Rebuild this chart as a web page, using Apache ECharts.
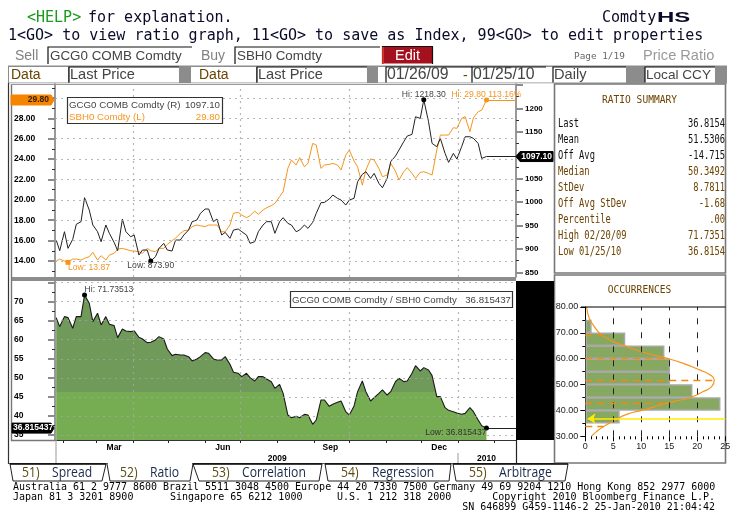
<!DOCTYPE html>
<html>
<head>
<meta charset="utf-8">
<title>ComdtyHS</title>
<script src="https://cdn.jsdelivr.net/npm/echarts@6/dist/echarts.min.js"></script>
<style>
  html, body { margin: 0; padding: 0; background: #fff; }
  #root { width: 736px; height: 527px; }
</style>
</head>
<body>
<div id="root"></div>
<script>
const dates = [
  '2009-01-26','2009-01-29','2009-02-02','2009-02-05','2009-02-09','2009-02-12','2009-02-16','2009-02-19','2009-02-23','2009-02-26',
  '2009-03-02','2009-03-05','2009-03-09','2009-03-12','2009-03-16','2009-03-19','2009-03-23','2009-03-26','2009-03-30','2009-04-02',
  '2009-04-06','2009-04-09','2009-04-13','2009-04-16','2009-04-20','2009-04-23','2009-04-27','2009-04-30','2009-05-04','2009-05-07',
  '2009-05-11','2009-05-14','2009-05-18','2009-05-21','2009-05-25','2009-05-28','2009-06-01','2009-06-04','2009-06-08','2009-06-11',
  '2009-06-15','2009-06-18','2009-06-22','2009-06-25','2009-06-29','2009-07-02','2009-07-06','2009-07-09','2009-07-13','2009-07-16',
  '2009-07-20','2009-07-23','2009-07-27','2009-07-30','2009-08-03','2009-08-06','2009-08-10','2009-08-13','2009-08-17','2009-08-20',
  '2009-08-24','2009-08-27','2009-08-31','2009-09-03','2009-09-07','2009-09-10','2009-09-14','2009-09-17','2009-09-21','2009-09-24',
  '2009-09-28','2009-10-01','2009-10-05','2009-10-08','2009-10-12','2009-10-15','2009-10-19','2009-10-22','2009-10-26','2009-10-29',
  '2009-11-02','2009-11-05','2009-11-09','2009-11-12','2009-11-16','2009-11-19','2009-11-23','2009-11-26','2009-11-30','2009-12-03',
  '2009-12-07','2009-12-10','2009-12-14','2009-12-17','2009-12-21','2009-12-24','2009-12-28','2009-12-31','2010-01-04','2010-01-07',
  '2010-01-11','2010-01-14','2010-01-18','2010-01-21','2010-01-25'
];
const gcg0 = [
  918.9,896.2,936.7,901.2,920.4,952.4,958.1,1009.3,982.9,951.0,
  936.7,915.4,951.0,933.2,914.0,896.2,963.8,936.7,926.0,929.6,
  886.9,897.6,897.6,873.9,883.4,901.2,911.8,897.6,895.5,918.9,
  918.9,929.6,940.3,958.1,961.6,975.8,985.1,985.1,958.1,963.8,
  929.6,935.3,922.5,940.3,942.4,936.7,929.6,911.8,915.4,936.7,
  951.0,958.1,958.1,933.2,958.1,966.6,954.5,951.0,936.7,940.3,
  951.0,943.8,956.6,975.8,998.6,999.3,1006.4,1015.0,1007.9,1004.3,
  993.6,1004.3,1007.9,1043.4,1059.1,1064.8,1050.5,1061.2,1039.9,1030.6,
  1050.5,1086.1,1098.2,1111.0,1128.8,1140.9,1144.4,1182.1,1178.6,1218.3,
  1171.5,1125.2,1118.1,1135.9,1103.9,1084.7,1103.9,1091.8,1118.1,1139.4,
  1139.4,1135.9,1125.2,1093.2,1097.1
];
const sbh0 = [
  13.99,14.19,13.99,13.87,14.19,14.19,14.09,14.26,14.42,14.85,
  14.09,14.52,14.09,14.59,14.75,15.17,15.24,15.14,15.01,14.98,
  14.91,14.75,15.24,15.01,14.91,15.24,15.24,15.63,15.99,16.25,
  16.71,16.97,17.04,17.37,17.53,17.46,17.37,17.53,17.53,17.53,
  16.87,16.87,17.53,18.69,18.77,18.51,18.25,18.45,18.90,18.58,
  19.00,19.23,19.43,19.66,20.31,20.80,23.09,23.91,23.42,24.14,
  23.25,23.58,25.54,25.38,23.09,23.42,23.48,23.58,23.42,22.93,
  24.40,24.89,23.81,23.25,21.45,22.93,24.01,23.91,23.09,22.27,
  22.44,23.58,22.83,21.95,22.76,23.16,22.60,22.11,22.70,22.76,
  22.60,22.44,24.89,26.36,26.36,26.36,27.08,27.02,28.00,28.16,
  26.69,28.06,28.65,28.81,29.80
];
const ratio = [
  65.80,63.44,66.06,65.80,63.00,66.06,66.06,71.7351,69.56,64.75,
  66.94,63.88,66.06,64.05,63.70,60.55,62.83,62.30,62.13,62.30,
  60.64,60.20,59.24,59.33,59.94,60.81,60.20,57.58,55.83,56.18,
  56.00,56.00,55.56,54.43,54.95,55.56,56.61,56.44,54.95,54.69,
  54.69,55.56,53.55,51.45,51.19,50.32,51.19,50.05,49.18,50.32,
  50.32,49.70,49.00,47.25,48.30,45.94,40.25,39.55,39.90,39.55,
  40.43,40.25,37.80,38.94,44.19,44.19,42.53,43.05,43.58,43.93,
  41.13,40.25,42.62,46.38,49.18,46.38,43.93,44.80,45.94,46.82,
  45.50,46.38,49.00,49.88,49.00,49.18,51.19,53.20,51.80,52.68,
  52.07,50.58,45.07,45.07,42.18,41.48,41.13,40.78,40.43,40.69,
  42.18,41.13,38.94,37.45,36.8154
];

const leftTicks = [14,16,18,20,22,24,26,28,30];
const leftMinor = [13,15,17,19,21,23,25,27,29,31];
const rightTicks = [850,900,950,1000,1050,1100,1150,1200,1250];
const rightLabels = [850,900,950,1000,1050,1100,1150,1200];
const rightMinor = [875,925,975,1025,1075,1125,1175,1225];
const ratioTicks = [35,40,45,50,55,60,65,70,75];
const ratioLabels = [35,40,45,50,55,60,65,70];
const ratioMinor = [37.5,42.5,47.5,52.5,57.5,62.5,67.5,72.5];
const quarterLines = ['2009-04-01','2009-07-01','2009-10-01','2010-01-01'];
const monthTicks = ['2009-02-01','2009-03-01','2009-04-01','2009-05-01','2009-06-01','2009-07-01','2009-08-01','2009-09-01','2009-10-01','2009-11-01','2009-12-01','2010-01-01','2010-02-01'];
const monthLabelAt = ['2009-03-16','2009-06-16','2009-09-15','2009-12-16'];
const monthLabels = ['Mar','Jun','Sep','Dec'];
const yearLabelAt = ['2009-08-01','2010-01-25'];
const yearLabels = ['2009','2010'];

const binLows = [35,40,45,50,55,60,65,70];
const binHighs = [40,45,50,55,60,65,70,75];
const binCounts = [6,24,19,15,15,14,7,1];
const curveCounts = [0.24,0.71,1.43,2.62,5,7.38,10.95,14.5,17.5,20.5,22.3,23.04,22.56,21.07,18.7,16.3,13.9,10.4,7.38,5,3.2,2.0,1.13];
const curveValues = [80,75.6,73.0,69.8,66.6,64.7,62.1,60.2,58.2,55.6,53.7,51.8,49.2,47.3,44.9,43.7,42.4,40.2,38.5,35.9,33.7,31.8,30.1];
const statLevels = [69.09,60.31,51.53,42.75,33.97];
const statReach = [3.2,14.5,23.1,14.2,3.2];
const countLines = [5,10,15,20];

const summaryNames = ['Last','Mean','Off Avg','Median','StDev','Off Avg StDev','Percentile','High 02/20/09','Low 01/25/10'];
const summaryValues = ['36.8154','51.5306','-14.715','50.3492','8.7811','-1.68','.00','71.7351','36.8154'];

const mono = '"DejaVu Sans Mono"';
const sans = '"Liberation Sans"';
const brown = '#6b4300';
const orange = '#f7941d';
const ms = (d) => Date.parse(d);
const axisEnd = ms('2010-02-19');
const axisStart = ms('2009-01-25');
const lastDate = ms(dates[dates.length - 1]);
const dotted = { color: 'rgba(165,165,165,0.8)', width: 1.2, type: [2, 4] };
const boldLabel = (size) => ({ color: '#000', fontFamily: 'Liberation Sans', fontWeight: 'bold', fontSize: size });

const chart = echarts.init(document.getElementById('root'));

const flatLine = (value, color) => [
  { coord: [lastDate, value], lineStyle: { color: color, width: 1, type: 'solid' } },
  { coord: [axisEnd, value] }
];
const gridLines = (levels) => levels.map(v => ({ yAxis: v })).concat(quarterLines.map(d => ({ xAxis: ms(d) })));
const zip = (vals) => dates.map((d, i) => [ms(d), vals[i]]);
const note = (coord, text, color, position, align, symbol) => ({
  coord: coord,
  symbol: symbol || 'circle',
  symbolSize: symbol === 'none' ? 0 : 5,
  itemStyle: { color: color === orange ? orange : '#000' },
  label: {
    show: true, formatter: text, color: color, position: position, align: align,
    fontFamily: 'Liberation Sans', fontSize: 8.6, distance: symbol === 'none' ? 1 : -2
  }
});

const timeAxis = (gridIndex, extra) => Object.assign({
  type: 'value', gridIndex: gridIndex, position: 'bottom', min: axisStart, max: axisEnd,
  axisLine: { show: false }, axisTick: { show: false }, axisLabel: { show: false }, splitLine: { show: false }
}, extra);

const leftAxis = (gridIndex, min, max, ticks, labels, minor, digits) => [
  {
    type: 'value', gridIndex: gridIndex, position: 'left', min: min, max: max, splitLine: { show: false },
    axisLine: { show: true, lineStyle: { color: '#777', width: 1.5 } },
    axisTick: { show: true, customValues: ticks, length: 7, lineStyle: { color: '#8c8c8c', width: 2 } },
    axisLabel: Object.assign({
      customValues: labels, align: 'left', margin: 41,
      formatter: v => v.toFixed(digits)
    }, boldLabel(8.5))
  },
  {
    type: 'value', gridIndex: gridIndex, position: 'left', min: min, max: max, splitLine: { show: false },
    axisLine: { show: false }, axisLabel: { show: false },
    axisTick: { show: true, customValues: minor, length: 3, lineStyle: { color: '#333', width: 1 } }
  }
];

chart.setOption({
  animation: false,
  backgroundColor: '#fff',
  grid: [
    { left: 55, top: 84, width: 461, height: 193 },
    { left: 55, top: 281, width: 461, height: 159 },
    { left: 585.3, top: 307, width: 140, height: 129.3 }
  ],
  xAxis: [
    timeAxis(0),
    timeAxis(1, {
      axisTick: { show: true, customValues: monthTicks.map(ms), length: 3, lineStyle: { color: '#222' } },
      axisLabel: Object.assign({
        show: true, customValues: monthLabelAt.map(ms), margin: 3,
        formatter: v => monthLabels[monthLabelAt.map(ms).indexOf(v)] || ''
      }, boldLabel(8.5))
    }),
    timeAxis(1, {
      axisLabel: Object.assign({
        show: true, customValues: yearLabelAt.map(ms), margin: 14,
        formatter: v => yearLabels[yearLabelAt.map(ms).indexOf(v)] || ''
      }, boldLabel(8.5))
    }),
    {
      type: 'value', gridIndex: 2, position: 'bottom', min: 0, max: 25, interval: 5,
      axisLine: { show: false },
      axisTick: { show: true, length: 5, lineStyle: { color: '#000' } },
      minorTick: { show: true, splitNumber: 5, length: 3, lineStyle: { color: '#000' } },
      axisLabel: { margin: 6, color: '#222', fontFamily: 'Liberation Sans', fontSize: 9, showMaxLabel: true },
      splitLine: { show: false }
    }
  ],
  yAxis: [].concat(
    leftAxis(0, 12.43, 31.37, leftTicks, leftTicks.slice(0, 8), leftMinor, 2),
    [
      {
        type: 'value', gridIndex: 0, position: 'right', min: 840, max: 1252, splitLine: { show: false },
        axisLine: { show: true, lineStyle: { color: '#777', width: 1.5 } },
        axisTick: { show: true, customValues: rightTicks, length: 7, lineStyle: { color: '#8c8c8c', width: 2 } },
        axisLabel: Object.assign({ customValues: rightLabels, margin: 9, formatter: v => String(v) }, boldLabel(8))
      },
      {
        type: 'value', gridIndex: 0, position: 'right', min: 840, max: 1252, splitLine: { show: false },
        axisLine: { show: false }, axisLabel: { show: false },
        axisTick: { show: true, customValues: rightMinor, length: 3, lineStyle: { color: '#333', width: 1 } }
      }
    ],
    leftAxis(1, 33.7, 75.4, ratioTicks, ratioLabels, ratioMinor, 0),
    [
      {
        type: 'value', gridIndex: 2, min: 30, max: 80, interval: 10,
        axisLine: { show: true, lineStyle: { color: '#000', width: 1 } },
        axisTick: { show: true, length: 5, lineStyle: { color: '#000' } },
        minorTick: { show: true, splitNumber: 2, length: 3, lineStyle: { color: '#000' } },
        axisLabel: { margin: 7, color: '#222', fontFamily: 'Liberation Sans', fontSize: 9, formatter: v => v.toFixed(2) },
        splitLine: { show: false }
      }
    ]
  ),
  series: [
    {
      name: 'SBH0 Comdty', type: 'line', xAxisIndex: 0, yAxisIndex: 0, data: zip(sbh0),
      showSymbol: false, lineStyle: { color: orange, width: 1 }, z: 3,
      markLine: {
        silent: true, symbol: 'none', label: { show: false }, lineStyle: dotted,
        data: gridLines(leftTicks).concat([flatLine(29.80, orange)])
      },
      markPoint: {
        silent: true,
        data: [
          note([ms(dates[3]), 13.87], 'Low: 13.87', orange, 'bottom', 'left', 'rect'),
          note([lastDate, 29.80], 'Hi: 29.80 113.16%', orange, 'top', 'center')
        ]
      }
    },
    {
      name: 'GCG0 COMB Comdty', type: 'line', xAxisIndex: 0, yAxisIndex: 2, data: zip(gcg0),
      showSymbol: false, lineStyle: { color: '#222', width: 1 }, z: 4,
      markLine: {
        silent: true, symbol: 'none', label: { show: false },
        data: [flatLine(1097.10, '#222')]
      },
      markPoint: {
        silent: true,
        data: [
          note([ms(dates[23]), 873.90], 'Low: 873.90', '#444', 'bottom', 'center'),
          note([ms(dates[89]), 1218.30], 'Hi: 1218.30', '#444', 'top', 'center'),
          note([lastDate, 1097.10], '19.30%', '#444', 'bottom', 'left', 'none')
        ]
      }
    },
    {
      name: 'GCG0 COMB Comdty / SBH0 Comdty', type: 'line', xAxisIndex: 1, yAxisIndex: 4, data: zip(ratio),
      showSymbol: false, lineStyle: { color: '#1a1a1a', width: 1.1 }, z: 3,
      areaStyle: {
        opacity: 1,
        color: new echarts.graphic.LinearGradient(0, 0, 0, 527, [
          { offset: 0, color: '#6f9a5a' }, { offset: 0.744, color: '#6f9a5a' },
          { offset: 0.744, color: '#77ad52' }, { offset: 1, color: '#77ad52' }
        ], true)
      },
      markLine: {
        silent: true, symbol: 'none', label: { show: false }, lineStyle: dotted,
        data: gridLines(ratioTicks).concat([flatLine(36.8154, '#222')])
      },
      markPoint: {
        silent: true,
        data: [
          note([ms(dates[7]), 71.7351], 'Hi: 71.73513', '#444', 'top', 'left'),
          note([lastDate, 36.8154], 'Low: 36.815437', '#333', 'bottom', 'right')
        ]
      }
    },
    {
      name: 'Occurrences', type: 'custom', xAxisIndex: 3, yAxisIndex: 6,
      data: binLows.map((lo, i) => [lo, binHighs[i], binCounts[i]]),
      encode: { x: 2, y: [0, 1] },
      renderItem: (params, api) => {
        const a = api.coord([0, api.value(1)]);
        const b = api.coord([api.value(2), api.value(0)]);
        return {
          type: 'rect',
          shape: { x: a[0] + 1, y: a[1] + 0.5, width: b[0] - a[0] - 1, height: b[1] - a[1] - 1 },
          style: { fill: '#86a860', stroke: '#a8a8a8', lineWidth: 1.5 }
        };
      },
      z: 2
    },
    {
      name: 'Normal', type: 'line', xAxisIndex: 3, yAxisIndex: 6, smooth: true, showSymbol: false,
      data: curveCounts.map((c, i) => [c, curveValues[i]]),
      lineStyle: { color: orange, width: 1.2 }, z: 3,
      markLine: {
        silent: true, symbol: 'none', label: { show: false },
        data: countLines.map(c => ({ xAxis: c, lineStyle: { color: '#222', type: [6, 8], width: 1 } })).concat(
          statLevels.map((v, i) => [
            { coord: [0, v], lineStyle: { color: '#f08a12', type: [7, 5], width: 1.3 } },
            { coord: [statReach[i], v] }
          ]),
          [[
            { coord: [25, 36.8154], symbol: 'none', lineStyle: { color: '#ffee00', type: 'solid', width: 1.6 } },
            { coord: [0.4, 36.8154], symbol: 'arrow', symbolSize: 8 }
          ]]
        )
      }
    }
  ]
});

// everything around the plots: panels, input rows, tabs, footer
const rect = (x, y, w, h, fill, stroke, lw, z) => ({
  type: 'rect', silent: true, z: z === undefined ? -5 : z,
  shape: { x: x, y: y, width: w, height: h },
  style: { fill: fill || 'none', stroke: stroke || 'none', lineWidth: lw || 1 }
});
const poly = (points, stroke, lw, z) => ({
  type: 'polyline', silent: true, z: z === undefined ? 40 : z,
  shape: { points: points }, style: { fill: 'none', stroke: stroke, lineWidth: lw || 1 }
});
const txt = (x, y, text, font, fill, align, scaleX) => ({
  type: 'text', silent: true, z: 50, x: x, y: y, scaleX: scaleX || 1,
  style: { text: text, font: font, fill: fill, align: align || 'left', verticalAlign: 'middle' }
});
const box = (x, y, w, h) => [
  rect(x, y, w, h, '#fff', null, 1, -3),
  poly([[x, y + h], [x, y], [x + w, y]], '#111', 1.2, -2)
];
const flag = (points, fill, stroke) => ({
  type: 'polygon', silent: true, z: 45,
  shape: { points: points }, style: { fill: fill, stroke: stroke || fill }
});

const el = [];
el.push(txt(27, 18, '<HELP>', '15px ' + mono, '#1a9a1a'));
el.push(txt(88, 18, 'for explanation.', '15px ' + mono, '#0a0a28'));
el.push(txt(8, 36, '1<GO> to view ratio graph, 11<GO> to save as Index, 99<GO> to edit properties', '15px ' + mono, '#0a0a28'));
el.push(txt(602, 18, 'Comdty', '15px ' + mono, '#0a0a28'));
el.push(txt(657, 18, 'HS', 'bold 15px ' + sans, '#0a0a28', 'left', 1.6));

el.push(txt(15, 56, 'Sell', '14px ' + sans, '#808080'));
el.push(...box(48, 47, 144, 17));
el.push(txt(50, 56, 'GCG0 COMB Comdty', '13.4px ' + sans, '#444'));
el.push(txt(201, 56, 'Buy', '14px ' + sans, '#808080'));
el.push(...box(235, 47, 145, 17));
el.push(txt(237, 56, 'SBH0 Comdty', '13.4px ' + sans, '#444'));
el.push(rect(382.5, 46.5, 50, 17, '#a5101f', null, 1, -2));
el.push(poly([[382.5, 64], [382.5, 46.5], [432.5, 46.5], [432.5, 64]], '#111', 1.2, -1));
el.push(poly([[383, 64], [383, 47]], '#f0402a', 1.5, -1));
el.push(txt(407.5, 56, 'Edit', '14.5px ' + sans, '#fff', 'center'));
el.push(txt(574, 57, 'Page 1/19', '9.4px ' + mono, '#666'));
el.push(txt(643, 56, 'Price Ratio', '14.6px ' + sans, '#999'));

el.push(rect(8, 65.5, 719, 18, '#8c8c8c', null, 1, -4));
el.push(rect(9, 67, 59, 15.5, '#fff', null, 1, -3));
el.push(rect(191, 67, 65, 15.5, '#fff', null, 1, -3));
el.push(rect(378, 67, 8, 15.5, '#fff', null, 1, -3));
el.push(rect(546, 67, 7, 15.5, '#fff', null, 1, -3));
el.push(...box(69, 67, 110, 15.5));
el.push(...box(257, 67, 110, 15.5));
el.push(...box(386, 67, 86, 15.5));
el.push(...box(472, 67, 74, 15.5));
el.push(...box(553, 67, 73, 15.5));
el.push(...box(645, 67, 70, 15.5));
el.push(txt(11, 75, 'Data', '14px ' + sans, brown));
el.push(txt(70, 75, 'Last Price', '14.6px ' + sans, '#444'));
el.push(txt(199, 75, 'Data', '14px ' + sans, brown));
el.push(txt(258, 75, 'Last Price', '14.6px ' + sans, '#444'));
el.push(txt(387, 75, '01/26/09', '15.8px ' + sans, '#444'));
el.push(txt(463, 76, '-', '14px ' + sans, brown));
el.push(txt(473, 75, '01/25/10', '15.8px ' + sans, '#444'));
el.push(txt(554, 75, 'Daily', '14.6px ' + sans, '#444'));
el.push(txt(646, 75, 'Local CCY', '13.6px ' + sans, '#444'));

// main frame
el.push(rect(8, 83.5, 546, 380, '#fff', null, 1, -4));
el.push(poly([[8.5, 83], [8.5, 464]], '#333', 1.2));
el.push(poly([[11.5, 84], [11.5, 440.5], [55, 440.5]], '#777', 1.4));
el.push(rect(11, 277, 505, 4, '#8c8c8c', null, 1, 30));
el.push(poly([[11, 84.5], [516, 84.5]], '#999', 1));
el.push(poly([[55, 440.5], [516, 440.5]], '#333', 1));
el.push(poly([[56, 440], [56, 463]], '#aaa', 1.2));
el.push(poly([[458, 453], [458, 463]], '#aaa', 1.2));
el.push(poly([[516.5, 440], [516.5, 463]], '#222', 1.2));
el.push(rect(516, 281, 38, 159, '#000', null, 1, 30));

// side panels
el.push(rect(554.5, 84, 171, 189, '#fff', '#777', 1.6, -3));
el.push(rect(554.5, 275, 171, 188, '#fff', '#777', 1.6, -3));
el.push(poly([[581, 307], [725.5, 307]], '#000', 1, 10));
el.push(txt(639.5, 100, 'RATIO SUMMARY', '11px ' + mono, brown, 'center', 0.87));
el.push(txt(639.5, 290, 'OCCURRENCES', '11px ' + mono, brown, 'center', 0.87));
summaryNames.forEach((name, i) => {
  const y = 124 + i * 16;
  const color = i < 3 ? '#111' : brown;
  el.push(txt(558, y, name, '12px ' + mono, color, 'left', 0.73));
  el.push(txt(725, y, summaryValues[i], '12px ' + mono, color, 'right', 0.73));
});

// legends inside the plots
el.push(rect(67.5, 97.5, 155, 26, '#fff', '#333', 1.2, 20));
el.push(txt(69, 105, 'GCG0 COMB Comdty (R)', '9.7px ' + sans, '#444'));
el.push(txt(220, 105, '1097.10', '9.7px ' + sans, '#444', 'right'));
el.push(txt(69, 117, 'SBH0 Comdty (L)', '9.7px ' + sans, orange));
el.push(txt(220, 117, '29.80', '9.7px ' + sans, orange, 'right'));
el.push(rect(290.5, 291.5, 222, 16, '#fff', '#333', 1.2, 20));
el.push(txt(292, 300, 'GCG0 COMB Comdty / SBH0 Comdty', '9.7px ' + sans, '#444'));
el.push(txt(511, 300, '36.815437', '9.7px ' + sans, '#444', 'right'));

// price flags sit on the axes at the last values
const yOrange = chart.convertToPixel({ yAxisIndex: 0 }, sbh0[sbh0.length - 1]);
el.push(flag([[11, yOrange - 5], [51, yOrange - 5], [54, yOrange], [51, yOrange + 5], [11, yOrange + 5]], '#f58400'));
el.push(txt(49, yOrange, '29.80', 'bold 8.5px ' + sans, '#3a2000', 'right'));
const yGold = chart.convertToPixel({ yAxisIndex: 2 }, gcg0[gcg0.length - 1]);
el.push(flag([[516, yGold], [520, yGold - 5], [553, yGold - 5], [553, yGold + 5], [520, yGold + 5]], '#000'));
el.push(txt(552, yGold, '1097.10', 'bold 8.5px ' + sans, '#fff', 'right'));
const yRatio = chart.convertToPixel({ yAxisIndex: 4 }, ratio[ratio.length - 1]);
el.push(flag([[12, yRatio - 5], [51, yRatio - 5], [54, yRatio], [51, yRatio + 5], [12, yRatio + 5]], '#000'));
el.push(txt(13, yRatio, '36.815437', 'bold 8.5px ' + sans, '#fff'));

// tabs
const tabFont = '14px "Open Sans"';
const tabs = [
  [[10, 464], [13, 481], [102, 481], [106, 464]],
  [[107, 464], [110, 481], [190, 481], [193, 464]],
  [[193, 464], [199, 481], [319, 481], [322, 464]],
  [[325, 464], [328, 481], [449, 481], [451, 464]],
  [[453, 464], [456, 481], [565, 481], [568, 464]]
];
tabs.forEach((t, i) => {
  el.push(poly(t, '#222', 1));
  if (i !== 1) el.push(poly([t[0], t[3]], '#000', 1.6));
});
el.push(poly([[8, 463.5], [554, 463.5]], '#555', 1.2, 39));
el.push(rect(108, 462.8, 84, 2.2, '#fff', null, 1, 41));
[[22, '51)'], [120, '52)'], [212, '53)'], [341, '54)'], [469, '55)']].forEach(a => el.push(txt(a[0], 473, a[1], tabFont, '#5c4a10', 'left', 0.87)));
[[52, 'Spread'], [150, 'Ratio'], [242, 'Correlation'], [372, 'Regression'], [499, 'Arbitrage']].forEach(a => el.push(txt(a[0], 473, a[1], tabFont, '#1a2a48', 'left', 0.87)));

// footer
const footFont = '10px ' + mono;
el.push(txt(13, 487.5, 'Australia 61 2 9777 8600 Brazil 5511 3048 4500 Europe 44 20 7330 7500 Germany 49 69 9204 1210 Hong Kong 852 2977 6000', footFont, '#000', 'left', 0.997));
el.push(txt(13, 497.5, 'Japan 81 3 3201 8900', footFont, '#000'));
el.push(txt(170, 497.5, 'Singapore 65 6212 1000', footFont, '#000'));
el.push(txt(337, 497.5, 'U.S. 1 212 318 2000', footFont, '#000'));
el.push(txt(715, 497.5, 'Copyright 2010 Bloomberg Finance L.P.', footFont, '#000', 'right'));
el.push(txt(715, 507.5, 'SN 646899 G459-1146-2 25-Jan-2010 21:04:42', footFont, '#000', 'right'));

chart.setOption({ graphic: el });
</script>
</body>
</html>
